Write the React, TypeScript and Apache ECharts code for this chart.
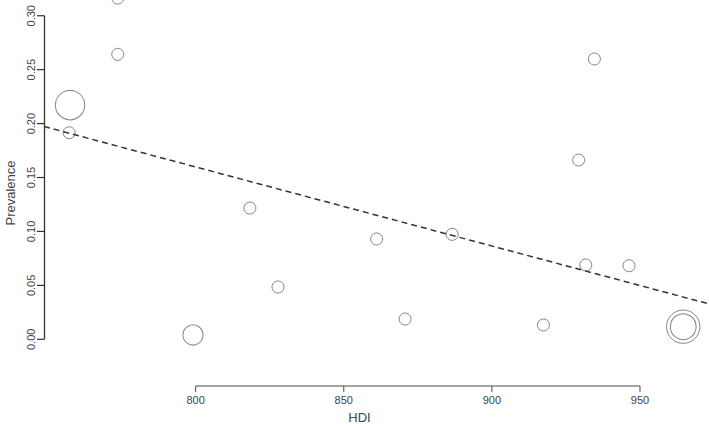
import React, { useEffect, useRef } from "react";
import * as echarts from "echarts";

// Study-level data (HDI vs prevalence)
const hdi = [757.3, 757.6, 773.7, 773.7, 799.1, 818.3, 827.8, 861.1, 870.7, 886.6, 917.4, 929.3, 931.7, 934.6, 946.3, 964.6, 964.6];
const prevalence = [0.1915, 0.2172, 0.3164, 0.2642, 0.004, 0.1217, 0.0485, 0.093, 0.0188, 0.0973, 0.0133, 0.1662, 0.0689, 0.2599, 0.0682, 0.0117, 0.0117];
// relative study weights (bubble area)
const weights = [1, 6.0, 1, 1, 2.8, 1, 1, 1, 1, 1, 1, 1, 1, 1, 1, 7.7, 4.6];

// fitted meta-regression line endpoints
const fitHdi = [748.8, 973.3];
const fitPrev = [0.1973, 0.0328];

const xTicks = [800, 850, 900, 950];
const yTicks = [0, 0.05, 0.1, 0.15, 0.2, 0.25, 0.3];

const X_MIN = 748.8;
const X_MAX = 973.3;
const Y_MIN = -0.0433;
const Y_MAX = 0.3146;

const FONT = "'Liberation Sans', Arial, sans-serif";
const AXIS_COLOR = "#4a4a4a";
const Y_AXIS_COLOR = "#333";
const TEXT_COLOR = "#444";

export default function App() {
  const ref = useRef<HTMLDivElement>(null);
  useEffect(() => {
    if (!ref.current) return;
    const chart = echarts.init(ref.current, undefined, { renderer: "svg" });
    const points = hdi.map((x, i) => ({
      value: [x, prevalence[i]],
      symbolSize: 12 * Math.sqrt(weights[i]),
    }));
    const renderAxes = (_params: any, api: any) => {
      const children: any[] = [];
      const seg = (a: number[], b: number[], color: string, w: number) =>
        children.push({
          type: "line",
          shape: { x1: a[0], y1: a[1], x2: b[0], y2: b[1] },
          style: { stroke: color, lineWidth: w, fill: null },
        });
      // R-style x axis spanning first to last tick
      const xa = api.coord([xTicks[0], Y_MIN]);
      const xb = api.coord([xTicks[xTicks.length - 1], Y_MIN]);
      seg(xa, xb, AXIS_COLOR, 1);
      xTicks.forEach((t) => {
        const c = api.coord([t, Y_MIN]);
        seg(c, [c[0], c[1] + 6], AXIS_COLOR, 1);
      });
      // R-style y axis spanning first to last tick
      const ya = api.coord([X_MIN, yTicks[0]]);
      const yb = api.coord([X_MIN, yTicks[yTicks.length - 1]]);
      seg([ya[0] + 0.5, ya[1]], [yb[0] + 0.5, yb[1]], Y_AXIS_COLOR, 1.3);
      yTicks.forEach((t) => {
        const c = api.coord([X_MIN, t]);
        seg([c[0] + 0.5, c[1]], [c[0] - 7, c[1]], Y_AXIS_COLOR, 1.2);
      });
      return { type: "group", children };
    };
    chart.setOption({
      animation: false,
      backgroundColor: "#fff",
      grid: {
        left: 44,
        right: 0,
        top: 0,
        bottom: 38,
        outerBoundsMode: "none",
      },
      xAxis: {
        type: "value",
        min: X_MIN,
        max: X_MAX,
        splitLine: { show: false },
        axisLine: { show: false, onZero: false },
        axisTick: { show: false },
        axisLabel: {
          customValues: xTicks,
          margin: 8,
          color: TEXT_COLOR,
          fontFamily: FONT,
          fontSize: 11,
          formatter: (v: number) => String(v),
        },
        name: "HDI",
        nameLocation: "middle",
        nameGap: 25,
        nameTextStyle: {
          color: TEXT_COLOR,
          fontFamily: FONT,
          fontSize: 13,
          lineHeight: 13,
          padding: [0, 34, 0, 0],
        },
      },
      yAxis: {
        type: "value",
        min: Y_MIN,
        max: Y_MAX,
        splitLine: { show: false },
        axisLine: { show: false, onZero: false },
        axisTick: { show: false },
        axisLabel: {
          customValues: yTicks,
          rotate: 90,
          margin: 8,
          color: TEXT_COLOR,
          fontFamily: FONT,
          fontSize: 11,
          formatter: (v: number) => v.toFixed(2),
        },
        name: "Prevalence",
        nameLocation: "middle",
        nameGap: 27,
        nameTextStyle: {
          color: TEXT_COLOR,
          fontFamily: FONT,
          fontSize: 13,
        },
      },
      series: [
        {
          type: "custom",
          data: [[X_MIN, Y_MIN]],
          clip: false,
          silent: true,
          z: 10,
          renderItem: renderAxes,
        },
        {
          type: "line",
          data: fitHdi.map((x, i) => [x, fitPrev[i]]),
          symbol: "none",
          lineStyle: { color: "#333", width: 1.5, type: [6, 4] },
        },
        {
          type: "scatter",
          data: points,
          clip: false,
          symbol: "circle",
          itemStyle: {
            color: "rgba(0,0,0,0)",
            borderColor: "#666",
            borderWidth: 1,
          },
        },
      ],
    });
    return () => chart.dispose();
  }, []);
  return (
    <div
      ref={ref}
      style={{ position: "fixed", left: 0, top: 0, width: 709, height: 424 }}
    />
  );
}
